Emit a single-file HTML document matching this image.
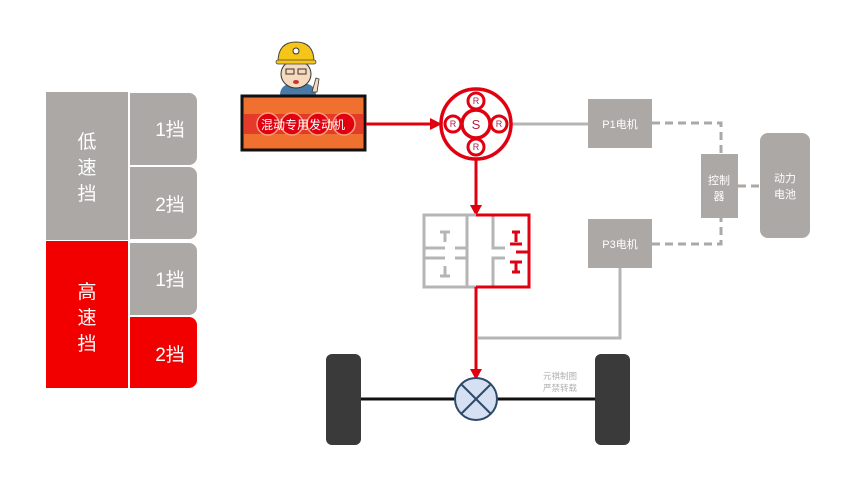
<!DOCTYPE html>
<html><head><meta charset="utf-8"><style>
html,body{margin:0;padding:0;background:#fff;width:853px;height:480px;overflow:hidden}
text{font-family:"Liberation Sans","Noto Sans CJK SC",sans-serif}
</style></head><body>
<svg width="853" height="480" viewBox="0 0 853 480" xmlns="http://www.w3.org/2000/svg">
<!-- left table -->
<rect x="46" y="92" width="82" height="148" fill="#aba8a6"/>
<rect x="46" y="241" width="82" height="147" fill="#f20000"/>
<path d="M130 93 H189 a8 8 0 0 1 8 8 V157 a8 8 0 0 1 -8 8 H130Z" fill="#aba8a6"/>
<path d="M130 167 H189 a8 8 0 0 1 8 8 V231 a8 8 0 0 1 -8 8 H130Z" fill="#aba8a6"/>
<path d="M130 243 H189 a8 8 0 0 1 8 8 V307 a8 8 0 0 1 -8 8 H130Z" fill="#aba8a6"/>
<path d="M130 317 H189 a8 8 0 0 1 8 8 V380 a8 8 0 0 1 -8 8 H130Z" fill="#f20000"/>
<g fill="#fff" font-size="19" text-anchor="middle">
<text x="87" y="148">低</text><text x="87" y="174">速</text><text x="87" y="200">挡</text>
<text x="87" y="298">高</text><text x="87" y="324">速</text><text x="87" y="350">挡</text>
<text x="170" y="136">1挡</text><text x="170" y="211">2挡</text>
<text x="170" y="286">1挡</text><text x="170" y="361">2挡</text>
</g>
<!-- worker -->
<path d="M280 95 q0-10 12-12 h12 q12 2 12 12Z" fill="#4a7aa8"/>
<ellipse cx="296" cy="74" rx="15" ry="14" fill="#f7d9bd" stroke="#333" stroke-width="1"/>
<path d="M278 62 q0-20 18-20 q18 0 18 20 z" fill="#f5c518" stroke="#444" stroke-width="1"/>
<rect x="276" y="60" width="40" height="4" rx="2" fill="#f5c518" stroke="#444" stroke-width="0.8"/>
<circle cx="296" cy="51" r="3" fill="#fff" stroke="#333"/>
<rect x="286" y="69" width="8" height="5" fill="none" stroke="#333"/><rect x="298" y="69" width="8" height="5" fill="none" stroke="#333"/>
<ellipse cx="296" cy="82" rx="3" ry="2" fill="#c33"/>
<path d="M312 92 l4-14 l3 1 l-2 13z" fill="#f7d9bd" stroke="#333" stroke-width="0.8"/>
<!-- engine -->
<rect x="242" y="96" width="123" height="54" fill="#f07030" stroke="#111" stroke-width="3"/>
<rect x="244" y="114" width="119" height="20" fill="#e43a2a"/>
<g fill="#e00010" stroke="#f9a080" stroke-width="1.5">
<circle cx="268" cy="124" r="11"/><circle cx="292" cy="124" r="11"/><circle cx="318" cy="124" r="11"/><circle cx="344" cy="124" r="11"/>
</g>
<text x="303" y="129" font-size="12" fill="#fff" text-anchor="middle">混动专用发动机</text>
<!-- engine to planetary -->
<line x1="366" y1="124" x2="432" y2="124" stroke="#e00010" stroke-width="3"/>
<polygon points="442,124 430,118 430,130" fill="#e00010"/>
<!-- gray line to P1 -->
<line x1="512" y1="124" x2="588" y2="124" stroke="#b5b5b5" stroke-width="3"/>
<!-- planetary -->
<circle cx="476" cy="124" r="35" fill="#fff" stroke="#e00010" stroke-width="3.5"/>
<circle cx="476" cy="124" r="14" fill="#fff" stroke="#e00010" stroke-width="3.5"/>
<g fill="#fff" stroke="#e00010" stroke-width="3"><circle cx="476" cy="101" r="8"/><circle cx="476" cy="147" r="8"/><circle cx="453" cy="124" r="8"/><circle cx="499" cy="124" r="8"/></g>
<g font-size="9" fill="#b02040" text-anchor="middle"><text x="476" y="104">R</text><text x="476" y="150">R</text><text x="453" y="127">R</text><text x="499" y="127">R</text></g>
<text x="476" y="129" font-size="13" fill="#b02040" text-anchor="middle">S</text>
<line x1="476" y1="160" x2="476" y2="207" stroke="#e00010" stroke-width="3"/>
<polygon points="476,216 470,205 482,205" fill="#e00010"/>
<!-- gearbox -->
<g fill="none" stroke="#b5b5b5" stroke-width="3">
<path d="M476 215 H424 V287 H476"/>
<line x1="467" y1="215" x2="467" y2="287"/>
<path d="M493 215 V248 H505 M493 287 V258 H505"/>
<path d="M424 248 H445 M424 258 H445 M467 248 H455 M467 258 H455"/>
<path d="M440 232 h10 M445 232 v10 M440 276 h10 M445 276 v-10"/>
</g>
<g fill="none" stroke="#e00010" stroke-width="3">
<path d="M476 215 H529 V287 H476"/>
<path d="M529 252 H516"/>
<path d="M512 232 h8 M516 232 v10 M512 272 h8 M516 272 v-10 M510 244 h12 M510 262 h12"/>
</g>
<line x1="476" y1="287" x2="476" y2="370" stroke="#e00010" stroke-width="3"/>
<polygon points="476,380 470,369 482,369" fill="#e00010"/>
<!-- P3 gray return -->
<path d="M620 268 V338 H478" fill="none" stroke="#b5b5b5" stroke-width="3"/>
<!-- boxes -->
<rect x="588" y="99" width="64" height="49" fill="#aba8a6"/>
<rect x="588" y="219" width="64" height="49" fill="#aba8a6"/>
<rect x="701" y="154" width="37" height="64" fill="#aba8a6"/>
<rect x="760" y="133" width="50" height="105" rx="8" fill="#aba8a6"/>
<g fill="#fff" font-size="11" text-anchor="middle">
<text x="620" y="128">P1电机</text><text x="620" y="248">P3电机</text>
<text x="719" y="184">控制</text><text x="719" y="200">器</text>
<text x="785" y="182">动力</text><text x="785" y="198">电池</text>
</g>
<g fill="none" stroke="#aba8a6" stroke-width="3" stroke-dasharray="8,5">
<path d="M652 123 H721 V154"/>
<path d="M652 244 H721 V218"/>
<path d="M738 186 H760"/>
</g>
<!-- axle and wheels -->
<line x1="360" y1="399" x2="596" y2="399" stroke="#111" stroke-width="3"/>
<rect x="326" y="354" width="35" height="91" rx="6" fill="#3a3a3a"/>
<rect x="595" y="354" width="35" height="91" rx="6" fill="#3a3a3a"/>
<circle cx="476" cy="399" r="21" fill="#d6e0f3" stroke="#2e4a6b" stroke-width="2"/>
<line x1="461" y1="384" x2="491" y2="414" stroke="#2e4a6b" stroke-width="2"/>
<line x1="491" y1="384" x2="461" y2="414" stroke="#2e4a6b" stroke-width="2"/>
<g fill="#b0b0b0" font-size="8.5" text-anchor="middle">
<text x="560" y="379">元祺制图</text><text x="560" y="391">严禁转载</text>
</g>
</svg>
</body></html>
